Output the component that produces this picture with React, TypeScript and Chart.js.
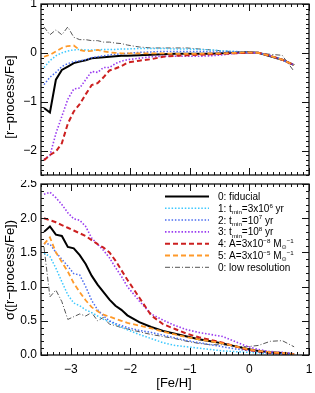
import React, { useEffect, useRef } from "react";
import { Chart, registerables } from "chart.js";
Chart.register(...registerables);

const FONT = '"Liberation Sans", Arial, "DejaVu Sans", sans-serif';

// [Fe/H] bin centres
const FEH = [-3.45, -3.35, -3.25, -3.15, -3.05, -2.95, -2.85, -2.75, -2.65, -2.55, -2.45, -2.35, -2.25, -2.15, -2.05,
  -1.85, -1.65, -1.45, -1.25, -1.05, -0.85, -0.65, -0.45, -0.25, -0.05, 0.15, 0.35, 0.55, 0.75];

const X_TICKS = [-3, -2, -1, 0, 1];
const TOP_Y_TICKS = [-2, -1, 0, 1];
const BOT_Y_TICKS = [0, 0.5, 1, 1.5, 2, 2.5];

const SERIES_LABELS = [
  "0: fiducial",
  "1: tmin=3x10^6 yr",
  "2: tmin=10^7 yr",
  "3: tmin=10^8 yr",
  "4: A=3x10^-8 Msun^-1",
  "5: A=3x10^-5 Msun^-1",
  "0: low resolution",
];

// Legend rich-text segments: [text, kind]
const LEGEND_TEXT: [string, string][][] = [
  [["0: fiducial", ""]],
  [["1: t", ""], ["min", "sub"], ["=3x10", ""], ["6", "sup"], [" yr", ""]],
  [["2: t", ""], ["min", "sub"], ["=10", ""], ["7", "sup"], [" yr", ""]],
  [["3: t", ""], ["min", "sub"], ["=10", ""], ["8", "sup"], [" yr", ""]],
  [["4: A=3x10", ""], ["\u22128", "sup"], [" M", ""], ["\u2299", "sub"], ["\u22121", "sup"]],
  [["5: A=3x10", ""], ["\u22125", "sup"], [" M", ""], ["\u2299", "sub"], ["\u22121", "sup"]],
  [["0: low resolution", ""]],
];

// Top panel: mean [r-process/Fe]
const MEAN_FIDUCIAL = [-1.13, -1.22, -0.55, -0.35, -0.28, -0.21, -0.18, -0.15, -0.11, -0.1, -0.09, -0.08, -0.07, -0.06, -0.06,
  -0.05, -0.04, -0.03, -0.02, -0.02, -0.02, -0.02, -0.01, 0.0, 0.01, 0.0, -0.07, -0.14, -0.25];
const MEAN_TMIN_3E6 = [-0.3, -0.16, -0.06, 0.0, 0.04, 0.06, 0.07, 0.06, 0.06, 0.06, 0.07, 0.07, 0.07, 0.08, 0.08,
  0.09, 0.09, 0.09, 0.08, 0.08, 0.07, 0.06, 0.04, 0.03, 0.01, 0.0, -0.06, -0.14, -0.25];
const MEAN_TMIN_1E7 = [-0.65, -0.5, -0.4, -0.28, -0.22, -0.18, -0.16, -0.14, -0.1, -0.08, -0.06, -0.04, -0.03, -0.02, -0.01,
  0.01, 0.02, 0.03, 0.03, 0.03, 0.03, 0.02, 0.02, 0.02, 0.01, 0.0, -0.06, -0.14, -0.25];
const MEAN_TMIN_1E8 = [-2.18, -2.1, -1.65, -1.3, -0.95, -0.74, -0.72, -0.55, -0.38, -0.4, -0.3, -0.3, -0.22, -0.17, -0.14,
  -0.11, -0.08, -0.07, -0.07, -0.07, -0.07, -0.06, -0.04, -0.01, 0.0, 0.0, -0.06, -0.14, -0.25];
const MEAN_A_3EM8 = [-2.2, -2.09, -2.02, -1.85, -1.45, -1.2, -1.05, -0.85, -0.66, -0.62, -0.5, -0.36, -0.32, -0.27, -0.2,
  -0.16, -0.13, -0.08, -0.06, -0.05, -0.04, -0.03, -0.02, -0.01, 0.0, 0.0, -0.06, -0.14, -0.25];
const MEAN_A_3EM5 = [-0.08, -0.04, 0.03, 0.1, 0.14, 0.15, 0.06, 0.03, 0.04, 0.06, 0.03, 0.01, 0.0, -0.01, -0.01,
  -0.01, -0.01, -0.01, -0.02, -0.02, -0.02, -0.01, -0.01, 0.0, 0.01, 0.0, -0.06, -0.14, -0.25];
const MEAN_LOWRES = [0.53, 0.37, 0.47, 0.37, 0.53, 0.32, 0.27, 0.27, 0.25, 0.25, 0.22, 0.22, 0.2, 0.19, 0.16,
  0.12, 0.1, 0.1, 0.1, 0.1, 0.08, 0.06, 0.04, 0.02, 0.01, 0.0, -0.03, -0.05, -0.38];

// Bottom panel: sigma([r-process/Fe])
const SIG_FIDUCIAL = [1.8, 1.88, 1.76, 1.74, 1.58, 1.56, 1.46, 1.33, 1.16, 1.03, 0.92, 0.81, 0.72, 0.66, 0.58,
  0.48, 0.41, 0.35, 0.31, 0.27, 0.23, 0.2, 0.17, 0.13, 0.09, 0.06, 0.04, 0.03, 0.01];
const SIG_TMIN_3E6 = [1.49, 1.44, 1.27, 1.07, 0.88, 0.76, 0.72, 0.66, 0.62, 0.57, 0.52, 0.49, 0.45, 0.41, 0.37,
  0.3, 0.24, 0.18, 0.14, 0.12, 0.1, 0.08, 0.06, 0.05, 0.04, 0.03, 0.02, 0.01, 0.01];
const SIG_TMIN_1E7 = [1.63, 1.62, 1.5, 1.4, 1.3, 1.19, 1.17, 1.0, 0.8, 0.66, 0.57, 0.5, 0.46, 0.43, 0.4,
  0.36, 0.33, 0.29, 0.25, 0.21, 0.18, 0.15, 0.12, 0.09, 0.07, 0.05, 0.03, 0.02, 0.01];
const SIG_TMIN_1E8 = [2.35, 2.38, 2.3, 2.2, 2.08, 1.99, 1.97, 1.88, 1.71, 1.62, 1.53, 1.42, 1.28, 1.15, 1.0,
  0.79, 0.6, 0.51, 0.43, 0.37, 0.33, 0.3, 0.27, 0.2, 0.13, 0.08, 0.05, 0.04, 0.02];
const SIG_A_3EM8 = [2.0, 1.97, 1.94, 1.9, 1.86, 1.82, 1.78, 1.74, 1.68, 1.62, 1.57, 1.5, 1.38, 1.24, 1.1,
  0.84, 0.58, 0.45, 0.38, 0.31, 0.26, 0.22, 0.18, 0.13, 0.08, 0.05, 0.03, 0.02, 0.01];
const SIG_A_3EM5 = [1.62, 1.72, 1.5, 1.36, 1.22, 1.05, 0.92, 0.8, 0.7, 0.64, 0.59, 0.56, 0.53, 0.5, 0.47,
  0.43, 0.39, 0.34, 0.3, 0.26, 0.23, 0.2, 0.17, 0.13, 0.09, 0.06, 0.04, 0.03, 0.01];
const SIG_LOWRES = [1.58, 0.85, 0.95, 0.78, 0.52, 0.56, 0.6, 0.57, 0.62, 0.5, 0.55, 0.45, 0.43, 0.4, 0.38,
  0.34, 0.3, 0.27, 0.24, 0.2, 0.17, 0.15, 0.15, 0.13, 0.12, 0.14, 0.2, 0.21, 0.12];

const MEAN_SERIES = [MEAN_FIDUCIAL, MEAN_TMIN_3E6, MEAN_TMIN_1E7, MEAN_TMIN_1E8, MEAN_A_3EM8, MEAN_A_3EM5, MEAN_LOWRES];
const SIG_SERIES = [SIG_FIDUCIAL, SIG_TMIN_3E6, SIG_TMIN_1E7, SIG_TMIN_1E8, SIG_A_3EM8, SIG_A_3EM5, SIG_LOWRES];

// styles (colour, width, dash, draw order)
const STYLES = [
  { color: "#000000", width: 2, dash: [] as number[], order: 6 },
  { color: "#3cc8ff", width: 1.5, dash: [1.5, 1.8], order: 5 },
  { color: "#4a6cf0", width: 1.5, dash: [1.5, 1.8], order: 4 },
  { color: "#9a3cf0", width: 1.6, dash: [1.5, 1.8], order: 3 },
  { color: "#cc2020", width: 2, dash: [5, 3], order: 2 },
  { color: "#ff9a2a", width: 1.8, dash: [5, 3], order: 1 },
  { color: "#555555", width: 1, dash: [5, 2, 1, 2], order: 7 },
];

function fmtMinus(v: number): string {
  return v < 0 ? "\u2212" + Math.abs(v) : String(v);
}

const framePlugin = {
  id: "frameTicks",
  afterDatasetsDraw(chart: any, _args: any, opts: any) {
    const { ctx, chartArea: a } = chart;
    const xs = chart.scales.x;
    const ys = chart.scales.y;
    ctx.save();
    ctx.strokeStyle = "#111";
    ctx.lineWidth = 1.3;
    ctx.setLineDash([]);
    ctx.strokeRect(a.left, a.top, a.right - a.left, a.bottom - a.top);
    ctx.lineWidth = 1;
    const seg = (x1: number, y1: number, x2: number, y2: number) => {
      ctx.beginPath();
      ctx.moveTo(x1, y1);
      ctx.lineTo(x2, y2);
      ctx.stroke();
    };
    const xTick = (v: number, len: number) => {
      const p = Math.round(xs.getPixelForValue(v)) + 0.5;
      seg(p, a.bottom, p, a.bottom - len);
      seg(p, a.top, p, a.top + len);
    };
    const yTick = (v: number, len: number) => {
      const p = Math.round(ys.getPixelForValue(v)) + 0.5;
      seg(a.left, p, a.left + len, p);
      seg(a.right, p, a.right - len, p);
    };
    const minors = (min: number, max: number, step: number, fn: (v: number) => void) => {
      for (let k = Math.ceil(min / step - 1e-6); k * step <= max + 1e-6; k++) fn(k * step);
    };
    minors(xs.min, xs.max, 0.1, (v) => xTick(v, 3));
    minors(ys.min, ys.max, opts.yMinor, (v) => yTick(v, 3));
    X_TICKS.forEach((v) => xTick(v, 7));
    (opts.yMajor as number[]).forEach((v) => yTick(v, 7));
    ctx.restore();
  },
};

function drawRich(ctx: CanvasRenderingContext2D, segs: [string, string][], x: number, y: number, size: number) {
  let cx = x;
  for (const [t, kind] of segs) {
    const fs = kind ? size * 0.62 : size;
    ctx.font = `${fs}px ${FONT}`;
    const dy = kind === "sup" ? -size * 0.42 : kind === "sub" ? size * 0.22 : 0;
    ctx.fillText(t, cx, y + dy);
    cx += ctx.measureText(t).width;
  }
}

function makeConfig(which: "top" | "bottom"): any {
  const isTop = which === "top";
  const series = isTop ? MEAN_SERIES : SIG_SERIES;
  const datasets = series.map((ys, i) => ({
    label: SERIES_LABELS[i],
    data: FEH.map((x, j) => ({ x, y: ys[j] })),
    borderColor: STYLES[i].color,
    borderWidth: STYLES[i].width,
    borderDash: STYLES[i].dash,
    order: STYLES[i].order,
    pointRadius: 0,
    tension: 0,
    fill: false,
  }));
  const yTicks = isTop ? TOP_Y_TICKS : BOT_Y_TICKS;

  const textPlugin = {
    id: "texts",
    afterDraw(chart: any) {
      const ctx = chart.ctx as CanvasRenderingContext2D;
      ctx.save();
      ctx.fillStyle = "#000";
      ctx.font = `13px ${FONT}`;
      ctx.textAlign = "center";
      ctx.textBaseline = "middle";
      ctx.save();
      ctx.translate(10, isTop ? 97 : 90);
      ctx.rotate(-Math.PI / 2);
      ctx.fillText(isTop ? "[r\u2212process/Fe]" : "\u03c3([r\u2212process/Fe])", 0, 0);
      ctx.restore();
      if (!isTop) {
        ctx.fillText("[Fe/H]", 174, 203);
        // legend
        ctx.textAlign = "left";
        ctx.textBaseline = "alphabetic";
        LEGEND_TEXT.forEach((segs, i) => {
          const y = 16.5 + i * 11.8;
          const st = STYLES[i];
          ctx.strokeStyle = st.color;
          ctx.lineWidth = st.width;
          ctx.setLineDash(st.dash);
          ctx.beginPath();
          ctx.moveTo(165, y);
          ctx.lineTo(209, y);
          ctx.stroke();
          ctx.setLineDash([]);
          drawRich(ctx, segs, 218, y + 3.5, 10);
        });
      }
      ctx.restore();
    },
  };

  return {
    type: "line",
    data: { datasets },
    options: {
      animation: false,
      responsive: false,
      maintainAspectRatio: false,
      events: [],
      layout: { padding: { top: 4, right: 6, bottom: isTop ? 5 : 0, left: 0 } },
      plugins: {
        legend: { display: false },
        tooltip: { enabled: false },
        frameTicks: { yMinor: 0.1, yMajor: yTicks },
      },
      scales: {
        x: {
          type: "linear",
          min: -3.5,
          max: 1,
          grid: { display: false, drawTicks: false },
          border: { display: false },
          ticks: {
            display: !isTop,
            color: "#000",
            font: { family: FONT, size: 12 },
            padding: 7,
            maxRotation: 0,
            autoSkip: false,
            callback: (v: number) => fmtMinus(v),
          },
          afterBuildTicks: (s: any) => {
            s.ticks = X_TICKS.map((v) => ({ value: v }));
          },
          afterFit: (s: any) => {
            s.height = isTop ? 0 : 38;
            s.paddingLeft = 0;
            s.paddingRight = 0;
          },
        },
        y: {
          type: "linear",
          min: isTop ? -2.5 : 0,
          max: isTop ? 1 : 2.5,
          grid: { display: false, drawTicks: false },
          border: { display: false },
          ticks: {
            color: "#000",
            font: { family: FONT, size: 12 },
            padding: 4,
            autoSkip: false,
            callback: (v: number) => (isTop ? fmtMinus(v) : v.toFixed(1)),
          },
          afterBuildTicks: (s: any) => {
            s.ticks = yTicks.map((v) => ({ value: v }));
          },
          afterFit: (s: any) => {
            s.width = 41;
            s.paddingTop = 0;
            s.paddingBottom = 0;
          },
        },
      },
    },
    plugins: [framePlugin, textPlugin],
  };
}

export default function App() {
  const topRef = useRef<HTMLCanvasElement>(null);
  const botRef = useRef<HTMLCanvasElement>(null);
  useEffect(() => {
    const c1 = new Chart(topRef.current as HTMLCanvasElement, makeConfig("top"));
    const c2 = new Chart(botRef.current as HTMLCanvasElement, makeConfig("bottom"));
    return () => {
      c1.destroy();
      c2.destroy();
    };
  }, []);
  return (
    <div style={{ position: "absolute", left: 0, top: 0, width: 315, height: 393, background: "#fff" }}>
      <canvas ref={topRef} width={315} height={180} style={{ position: "absolute", left: 0, top: 0 }} />
      <canvas ref={botRef} width={315} height={213} style={{ position: "absolute", left: 0, top: 180 }} />
    </div>
  );
}
